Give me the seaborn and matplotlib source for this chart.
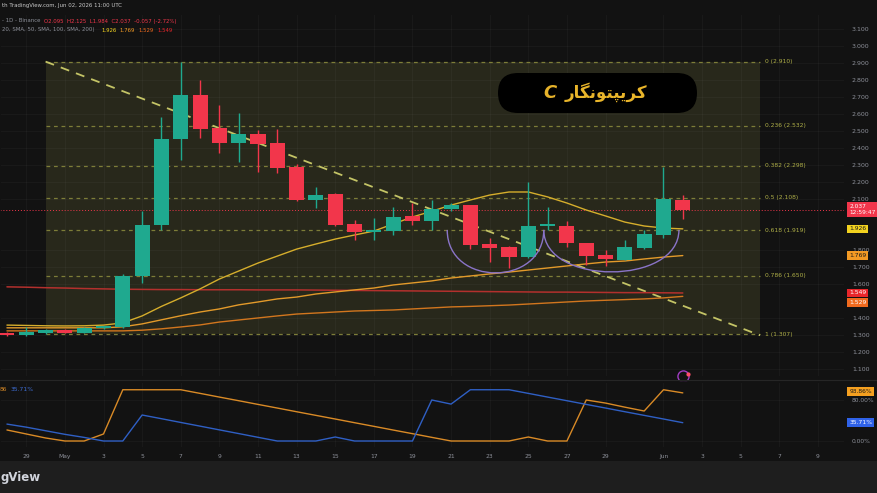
import numpy as np
import pandas as pd
import seaborn as sns
import matplotlib.pyplot as plt
from matplotlib.path import Path
from matplotlib.patches import PathPatch, FancyBboxPatch, Rectangle

# candele giornaliere 28 apr - 2 giu
dates = ['Apr 28', 'Apr 29', 'Apr 30', 'May 01', 'May 02', 'May 03', 'May 04', 'May 05', 'May 06',
         'May 07', 'May 08', 'May 09', 'May 10', 'May 11', 'May 12', 'May 13', 'May 14', 'May 15',
         'May 16', 'May 17', 'May 18', 'May 19', 'May 20', 'May 21', 'May 22', 'May 23', 'May 24',
         'May 25', 'May 26', 'May 27', 'May 28', 'May 29', 'May 30', 'May 31', 'Jun 01', 'Jun 02']
opens = [1.312, 1.300, 1.315, 1.333, 1.316, 1.340, 1.350, 1.649, 1.949, 2.455, 2.714, 2.520,
         2.430, 2.484, 2.430, 2.290, 2.096, 2.130, 1.955, 1.910, 1.915, 2.000, 1.975, 2.040,
         2.065, 1.835, 1.820, 1.760, 1.944, 1.945, 1.840, 1.770, 1.745, 1.815, 1.890, 2.095]
highs = [1.318, 1.350, 1.338, 1.336, 1.348, 1.356, 1.662, 2.030, 2.584, 2.908, 2.800, 2.655,
         2.610, 2.507, 2.513, 2.310, 2.170, 2.135, 1.977, 1.990, 2.056, 2.080, 2.095, 2.080,
         2.068, 1.870, 1.825, 2.200, 2.056, 1.970, 1.845, 1.800, 1.860, 1.920, 2.290, 2.125]
lows = [1.296, 1.296, 1.310, 1.312, 1.312, 1.336, 1.345, 1.610, 1.920, 2.330, 2.460, 2.370,
        2.320, 2.260, 2.255, 2.090, 2.050, 1.945, 1.860, 1.860, 1.890, 1.950, 1.920, 2.030,
        1.810, 1.730, 1.697, 1.755, 1.920, 1.820, 1.715, 1.710, 1.740, 1.805, 1.870, 1.984]
closes = [1.300, 1.318, 1.333, 1.316, 1.343, 1.352, 1.649, 1.949, 2.455, 2.714, 2.514, 2.431,
          2.484, 2.425, 2.284, 2.096, 2.125, 1.950, 1.910, 1.920, 1.995, 1.975, 2.040, 2.065,
          1.830, 1.815, 1.760, 1.940, 1.952, 1.840, 1.765, 1.750, 1.820, 1.895, 2.100, 2.037]

# medie mobili (SMA 20, 50, 100, 200)
sma20 = [1.360, 1.358, 1.356, 1.355, 1.356, 1.360, 1.373, 1.414, 1.470, 1.520, 1.573, 1.631,
         1.678, 1.725, 1.766, 1.807, 1.837, 1.866, 1.890, 1.913, 1.955, 1.996, 2.030, 2.066,
         2.096, 2.125, 2.143, 2.143, 2.114, 2.078, 2.037, 2.002, 1.966, 1.943, 1.931, 1.926]
sma50 = [1.344, 1.344, 1.344, 1.344, 1.344, 1.344, 1.350, 1.367, 1.391, 1.415, 1.437, 1.455,
         1.479, 1.496, 1.514, 1.525, 1.543, 1.555, 1.567, 1.578, 1.596, 1.608, 1.620, 1.637,
         1.649, 1.661, 1.672, 1.684, 1.696, 1.708, 1.720, 1.731, 1.737, 1.749, 1.760, 1.769]
sma100 = [1.326, 1.326, 1.326, 1.326, 1.326, 1.326, 1.326, 1.330, 1.338, 1.349, 1.361, 1.378,
          1.390, 1.402, 1.414, 1.425, 1.431, 1.437, 1.443, 1.446, 1.449, 1.455, 1.461, 1.467,
          1.470, 1.474, 1.478, 1.484, 1.490, 1.496, 1.502, 1.506, 1.510, 1.514, 1.520, 1.529]
sma200 = [1.585, 1.583, 1.580, 1.578, 1.575, 1.573, 1.571, 1.570, 1.569, 1.569, 1.568, 1.568,
          1.568, 1.567, 1.567, 1.567, 1.566, 1.565, 1.564, 1.563, 1.562, 1.561, 1.560, 1.559,
          1.558, 1.557, 1.556, 1.555, 1.554, 1.554, 1.553, 1.552, 1.551, 1.551, 1.550, 1.549]

# aroon 14
aroon_up = [21.5, 13.7, 5.9, 0, 0, 13.7, 100, 100, 100, 100, 92.9, 85.7, 78.6, 71.4, 64.3, 57.1,
            50.0, 42.9, 35.7, 28.6, 21.4, 14.3, 7.1, 0, 0, 0, 0, 7.8, 0, 0, 80.0, 74.0, 66.0,
            58.5, 100, 93.86]
aroon_down = [33.0, 27.0, 20.0, 13.0, 7.0, 0, 0, 50.7, 43.5, 36.2, 29.0, 21.7, 14.5, 7.2, 0, 0,
              0, 7.8, 0, 0, 0, 0, 80.0, 72.0, 100, 100, 100, 92.9, 85.7, 78.6, 71.4, 64.3, 57.1,
              50.0, 42.9, 35.71]

# ritracciamenti di fibonacci
fib_ratios = ['0', '0.236', '0.382', '0.5', '0.618', '0.786', '1']
fib_prices = [2.910, 2.532, 2.298, 2.108, 1.919, 1.650, 1.307]

# assi (le etichette coperte dai box di prezzo non si vedono)
price_ticks = [3.1, 3.0, 2.9, 2.8, 2.7, 2.6, 2.5, 2.4, 2.3, 2.2, 2.1, 1.8, 1.7, 1.6,
               1.4, 1.3, 1.2, 1.1]
date_ticks = [1, 3, 5, 7, 9, 11, 13, 15, 17, 19, 21, 23, 25, 27, 29, 31, 34, 36, 38, 40, 42]
date_labels = ['29', 'May', '3', '5', '7', '9', '11', '13', '15', '17', '19', '21', '23', '25',
               '27', '29', 'Jun', '3', '5', '7', '9']

BG = '#121212'
GREEN = '#1fa98f'
RED = '#f2364b'
GRAY = '#8d9099'

sns.set_theme(style='dark', rc={'axes.facecolor': BG, 'figure.facecolor': BG,
                                'axes.edgecolor': BG})
plt.rcParams['font.family'] = ['DejaVu Sans']

W, H = 877, 493


def box(x0, y0, x1, y1):
    return [x0 / W, 1 - y1 / H, (x1 - x0) / W, (y1 - y0) / H]


fig = plt.figure(figsize=(8.77, 4.93), dpi=100)
ax = fig.add_axes(box(0, 14, 845, 377))
osc = fig.add_axes(box(0, 382, 845, 448), sharex=ax)

df = pd.DataFrame({'day': np.arange(len(dates)), 'date': dates, 'open': opens, 'high': highs,
                   'low': lows, 'close': closes, 'sma20': sma20, 'sma50': sma50,
                   'sma100': sma100, 'sma200': sma200, 'up': aroon_up, 'down': aroon_down})
col = np.where(df['close'] >= df['open'], GREEN, RED)

# box fibonacci
fib_x0, fib_x1 = 2, 39.0
ax.fill_between([fib_x0, fib_x1], fib_prices[-1], fib_prices[0], color='#28281b', zorder=0.2, lw=0)
for r, p in zip(fib_ratios, fib_prices):
    ax.plot([fib_x0, fib_x1], [p, p], color='#7d7d38', lw=0.9, ls=(0, (3, 3)), zorder=1)
    ax.text(39.25, p, f'{r} ({p:.3f})', color='#b0b048', fontsize=4.3, va='center', ha='left')
ax.plot([fib_x0, fib_x1], [fib_prices[0], 1.300], color='#c4c466', lw=1.3, ls=(0, (5, 4)), zorder=1.5)

# medie mobili
sns.lineplot(data=df, x='day', y='sma200', ax=ax, color='#b3302d', lw=1.1, zorder=2)
sns.lineplot(data=df, x='day', y='sma100', ax=ax, color='#d2761e', lw=1.0, zorder=2)
sns.lineplot(data=df, x='day', y='sma50', ax=ax, color='#e39a2a', lw=1.0, zorder=2)
sns.lineplot(data=df, x='day', y='sma20', ax=ax, color='#d6ae2c', lw=1.0, zorder=2)

# candele
ax.vlines(df['day'], df['low'], df['high'], colors=col, lw=1.0, zorder=3)
body = np.maximum((df['close'] - df['open']).abs(), 0.006)
ax.bar(df['day'], body, bottom=np.minimum(df['open'], df['close']), width=0.78,
       color=col, zorder=4, lw=0)

# tazze (cup) disegnate
for (xa, xb), yend, ybot in [((22.8, 27.8), 1.92, 1.667), ((27.8, 34.8), 1.92, 1.673)]:
    c = (8 * ybot - 2 * yend) / 6
    verts = [(xa, yend), (xa, c), (xb, c), (xb, yend)]
    ax.add_patch(PathPatch(Path(verts, [Path.MOVETO, Path.CURVE4, Path.CURVE4, Path.CURVE4]),
                           fc='none', ec='#8a74c8', lw=1.0, zorder=5))

# linea prezzo corrente
ax.axhline(closes[-1], color=RED, lw=0.7, ls=(0, (1, 2)), zorder=1.8)

ax.set_xlim(-0.36, 43.4)
ax.set_ylim(1.0547, 3.19)
ax.set_yticks(price_ticks)
ax.set_yticklabels([f'{v:.3f}' for v in price_ticks])
ax.yaxis.tick_right()
ax.tick_params(axis='y', length=0, pad=5, labelsize=4.5, labelcolor=GRAY)
ax.tick_params(axis='x', length=0, labelbottom=False)
ax.set_xticks(date_ticks)
ax.grid(True, color='white', alpha=0.035, lw=0.6)
ax.set_axisbelow(True)
ax.set_xlabel('')
ax.set_ylabel('')

yt = ax.get_yaxis_transform()
ax.text(1.005, 2.040, '2.037\n12:59:47', transform=yt, fontsize=4.2, color='white', va='center',
        ha='left', linespacing=1.1, bbox=dict(boxstyle='square,pad=0.35', fc=RED, ec='none'))
for v, ypos, fc, tc in [(1.926, 1.926, '#f2d21f', '#1a1a1a'), (1.769, 1.769, '#f39a24', '#1a1a1a'),
                        (1.549, 1.549, '#e8262b', 'white'), (1.529, 1.494, '#f06a1e', 'white')]:
    ax.text(1.005, ypos, f'{v:.3f}', transform=yt, fontsize=4.3, color=tc, va='center', ha='left',
            bbox=dict(boxstyle='square,pad=0.3', fc=fc, ec='none'))
ax.plot([35], [1.06], marker='o', ms=8, mfc='none', mec='#a13cc4', mew=1.0, clip_on=False, zorder=6)
ax.plot([35.25], [1.075], marker='o', ms=2, color='#ff4d6a', clip_on=False, zorder=6)

# aroon
sns.lineplot(data=df, x='day', y='up', ax=osc, color='#d98a26', lw=1.0)
sns.lineplot(data=df, x='day', y='down', ax=osc, color='#2f5fc4', lw=1.0)
osc.set_ylim(-13.66, 115.1)
osc.set_yticks([0, 80])
osc.set_yticklabels(['0.00%', '80.00%'])
osc.yaxis.tick_right()
osc.tick_params(axis='y', length=0, pad=5, labelsize=4.3, labelcolor=GRAY)
osc.set_xticks(date_ticks)
osc.set_xticklabels(date_labels)
osc.tick_params(axis='x', length=0, pad=4, labelsize=4.3, labelcolor=GRAY)
osc.grid(True, color='white', alpha=0.035, lw=0.6)
osc.set_xlabel('')
osc.set_ylabel('')
ot = osc.get_yaxis_transform()
osc.text(1.005, 96.5, f'{aroon_up[-1]:.2f}%', transform=ot, fontsize=4.3, color='#1a1a1a',
         va='center', ha='left', bbox=dict(boxstyle='square,pad=0.3', fc='#f5a020', ec='none'))
osc.text(1.005, aroon_down[-1], f'{aroon_down[-1]:.2f}%', transform=ot, fontsize=4.3, color='white',
         va='center', ha='left', bbox=dict(boxstyle='square,pad=0.3', fc='#2f62e8', ec='none'))
osc.text(0.0, 100, '86', color='#d98a26', fontsize=4.3, va='center', ha='left',
         transform=osc.get_yaxis_transform())
osc.text(0.012, 100, '35.71%', color='#3f6fd8', fontsize=4.3, va='center', ha='left',
         transform=osc.get_yaxis_transform())

# separatore e barra inferiore
fig.add_artist(plt.Line2D([0, 1], [1 - 380 / H, 1 - 380 / H], color='#262626', lw=0.8))
fig.add_artist(Rectangle((0, 0), 1, 1 - 461 / H, transform=fig.transFigure, fc='#1e1e1e', ec='none'))
fig.text(0.5 / W, 1 - 478 / H, 'gView', ha='left', va='center', fontsize=8.5,
         fontweight='bold', color='#d1d4dc')

# intestazione
fs = 3.9
fig.text(2 / W, 1 - 6 / H, 'th TradingView.com, Jun 02, 2026 11:00 UTC', fontsize=fs,
         color='#c8c8c8', va='center')
fig.text(2 / W, 1 - 21 / H, '- 1D - Binance', fontsize=fs, color=GRAY, va='center')
fig.text(44 / W, 1 - 21 / H, 'O2.095  H2.125  L1.984  C2.037  -0.057 (-2.72%)', fontsize=fs,
         color=RED, va='center')
fig.text(2 / W, 1 - 30 / H, '20, SMA, 50, SMA, 100, SMA, 200)', fontsize=fs, color=GRAY, va='center')
for xp, txt, c in [(101, '1.926', '#f2d21f'), (119, '1.769', '#f39a24'),
                   (138, '1.529', '#f06a1e'), (157, '1.549', '#e8262b')]:
    fig.text(xp / W, 1 - 30 / H, txt, fontsize=fs, color=c, va='center')

# logo
fig.add_artist(FancyBboxPatch((4.98, (H - 113) / 100), 1.99, 0.40,
                              boxstyle='round,pad=0,rounding_size=0.2',
                              transform=fig.dpi_scale_trans, fc='black', ec='none'))
fig.text(550 / W, 1 - 93 / H, 'C', fontsize=13, fontweight='bold', fontstyle='italic',
         color='#e6b22a', ha='center', va='center')
fig.text(606 / W, 1 - 92 / H, '\uFEAD\uFE8E\uFB95\uFEE7\uFEEE\uFE98\uFB59\uFBFE\uFEAE\uFB90',
         fontsize=12, fontweight='bold', color='#e9b52a', ha='center', va='center')

fig.savefig('out.png', dpi=100, facecolor=BG)
